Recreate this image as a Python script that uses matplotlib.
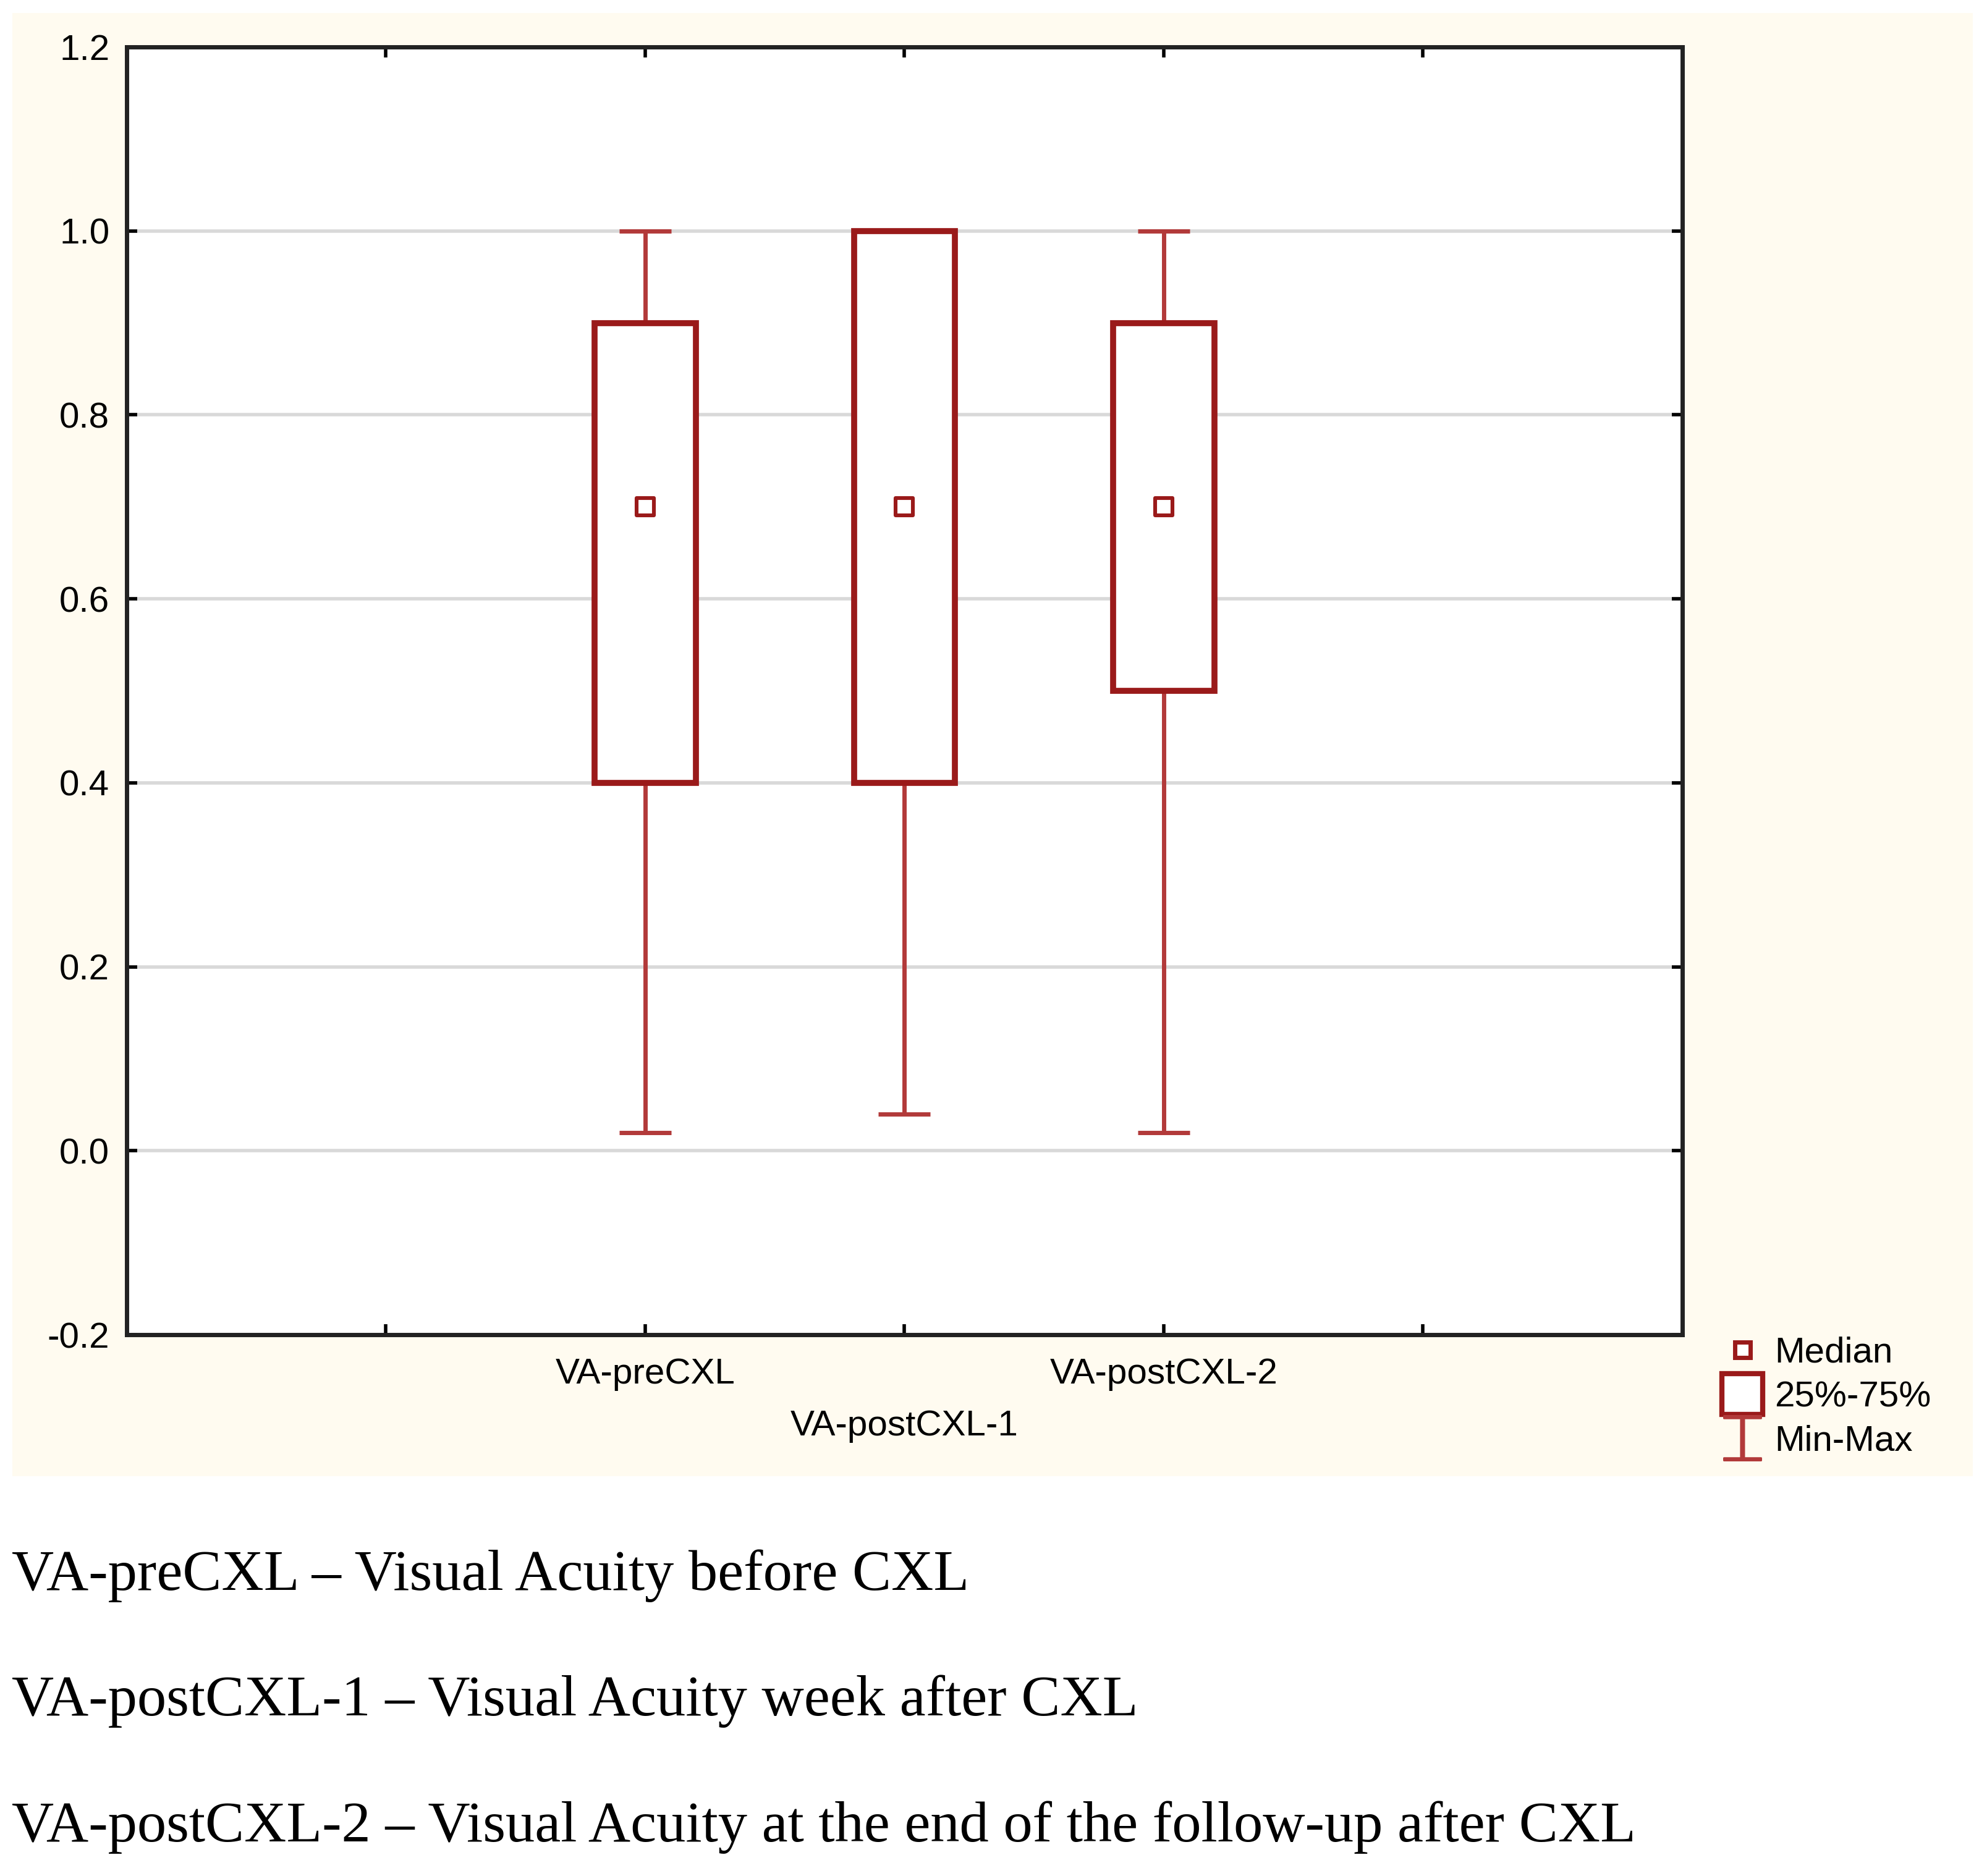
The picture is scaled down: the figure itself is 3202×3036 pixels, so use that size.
import matplotlib.pyplot as plt
from matplotlib.lines import Line2D
from matplotlib.patches import Rectangle

plt.rcParams["font.family"] = ["Liberation Sans", "DejaVu Sans"]

categories = ["VA-preCXL", "VA-postCXL-1", "VA-postCXL-2"]
mins = [0.02, 0.04, 0.02]
q1 = [0.4, 0.4, 0.5]
medians = [0.7, 0.7, 0.7]
q3 = [0.9, 1.0, 0.9]
maxs = [1.0, 1.0, 1.0]
captions = [
    "VA-preCXL \u2013 Visual Acuity before CXL",
    "VA-postCXL-1 \u2013 Visual Acuity week after CXL",
    "VA-postCXL-2 \u2013 Visual Acuity at the end of the follow-up after CXL",
]

box_c = "#9a1a1a"
wh_c = "#b23a3a"
pos = list(range(len(categories)))

fig = plt.figure(figsize=(16.01, 15.18), dpi=200)
fig.patches.append(Rectangle((0.0064, 0.213), 0.9906, 0.78, transform=fig.transFigure,
                             facecolor="#fffbf0", edgecolor="none", zorder=-1))
ax = fig.add_axes([0.064, 0.2885, 0.786, 0.6865])
ax.set_facecolor("white")

for y in [0.0, 0.2, 0.4, 0.6, 0.8, 1.0]:
    ax.axhline(y, color="#d9d9d9", lw=2, zorder=0)

ax.vlines(pos, mins, q1, color=wh_c, lw=2.5, zorder=1)
ax.vlines(pos, q3, maxs, color=wh_c, lw=2.5, zorder=1)
ax.hlines(mins, [p - 0.1 for p in pos], [p + 0.1 for p in pos], color=wh_c, lw=2.5)
ax.hlines(maxs, [p - 0.1 for p in pos], [p + 0.1 for p in pos], color=wh_c, lw=2.5)
ax.bar(pos, [b - a for a, b in zip(q1, q3)], bottom=q1, width=0.39,
       facecolor="white", edgecolor=box_c, linewidth=3.5, zorder=2)
ax.scatter(pos, medians, marker="s", s=100, facecolor="white", edgecolor=box_c,
           linewidth=2.2, zorder=3)

ax.set_xlim(-2, 4)
ax.set_ylim(-0.2, 1.2)
ax.set_yticks([-0.2, 0.0, 0.2, 0.4, 0.6, 0.8, 1.0, 1.2])
ax.set_yticklabels(["-0.2", "0.0", "0.2", "0.4", "0.6", "0.8", "1.0", "1.2"], fontsize=21)
ax.set_xticks([-1, 0, 1, 2, 3])
ax.set_xticklabels([])
for p, lab in zip(pos, categories):
    ax.text(p, -0.225 if p != 1 else -0.281, lab, ha="center", va="top", fontsize=21)
ax.tick_params(direction="in", length=6, width=2, top=True, right=True, pad=10)
for s in ax.spines.values():
    s.set_linewidth(2.5)
    s.set_color("#222222")

handles = [
    Line2D([], [], ls="none", marker="s", ms=9, mfc="white", mec=box_c, mew=2.5),
    Line2D([], [], ls="none", marker="s", ms=24, mfc="white", mec=box_c, mew=3),
    Line2D([], [], ls="none", marker="$\u2336$", ms=26, color=wh_c),
]
fig.legend(handles, ["Median", "25%-75%", "Min-Max"], loc="upper left",
           bbox_to_anchor=(0.853, 0.305), frameon=False, fontsize=21,
           handletextpad=0.3, labelspacing=0.3, handlelength=1.2)

for i, cap in enumerate(captions):
    fig.text(0.006, [0.16, 0.093, 0.026][i], cap, fontsize=34, family="Liberation Serif",
             va="center")

fig.savefig("out.png")
